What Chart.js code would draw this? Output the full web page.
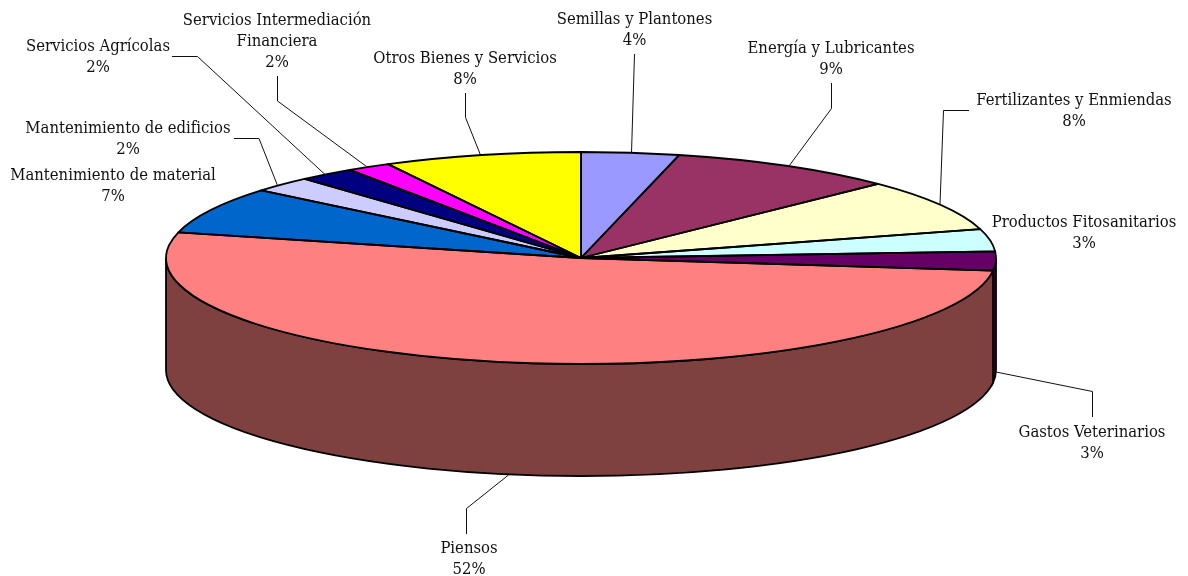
<!DOCTYPE html>
<html lang="es">
<head>
<meta charset="utf-8">
<title>Consumos intermedios</title>
<script src="https://cdn.jsdelivr.net/npm/chart.js@4"></script>
<style>
  html, body { margin: 0; padding: 0; background: #fff; }
  canvas { display: block; }
</style>
</head>
<body>
<canvas id="pieChart" width="1188" height="576"></canvas>
<script>
// Datos
const categories = [
  'Semillas y Plantones', 'Energía y Lubricantes', 'Fertilizantes y Enmiendas',
  'Productos Fitosanitarios', 'Gastos Veterinarios', 'Piensos',
  'Mantenimiento de material', 'Mantenimiento de edificios', 'Servicios Agrícolas',
  'Servicios Intermediación Financiera', 'Otros Bienes y Servicios'
];
const shares = [3.8, 8.9, 7.9, 3.4, 2.9, 52.0, 7.1, 2.4, 2.2, 1.7, 7.7];
const sliceColors = [
  '#9999FF', '#993366', '#FFFFCC', '#CCFFFF', '#660066', '#FF8080',
  '#0066CC', '#CCCCFF', '#000080', '#FF00FF', '#FFFF00'
];

// Maquetacion: elipse de la tarta y etiquetas
const pieBox = { cx: 581, cy: 258, rx: 415, ry: 106, depth: 112 };
const labelFont = '16.5px "DejaVu Serif Condensed", "DejaVu Serif", serif';
const labelLines = [
  ['Semillas y Plantones'], ['Energía y Lubricantes'], ['Fertilizantes y Enmiendas'],
  ['Productos Fitosanitarios'], ['Gastos Veterinarios'], ['Piensos'],
  ['Mantenimiento de material'], ['Mantenimiento de edificios'], ['Servicios Agrícolas'],
  ['Servicios Intermediación', 'Financiera'], ['Otros Bienes y Servicios']
];
const labelAnchors = [
  [634.5, 24], [831, 53], [1074, 105], [1084, 227], [1092, 437], [469, 553],
  [113, 180], [128, 133], [98, 51], [277, 25], [465, 63]
];
const leaderLines = [
  [[634.5, 54], [631.5, 153]],
  [[831.5, 83], [831.5, 108.5], [789, 166]],
  [[969, 110.5], [943.5, 110.5], [940, 204]],
  null,
  [[996, 372], [1092.5, 391.5], [1092.5, 417]],
  [[508.5, 475], [466.5, 508.5], [466.5, 534]],
  null,
  [[234, 138.5], [259, 138.5], [277.5, 185.5]],
  [[172, 56.5], [197.5, 56.5], [325, 174.5]],
  [[277.5, 76], [277.5, 101], [366.5, 166.5]],
  [[465.5, 93], [465.5, 117.5], [480.5, 155]]
];

function darken(hex) {
  const n = parseInt(hex.slice(1), 16);
  const half = (v) => (v >> 1);
  return `rgb(${half((n >> 16) & 255)}, ${half((n >> 8) & 255)}, ${half(n & 255)})`;
}

// Cara lateral: solo la parte de cada sector que mira hacia abajo
function drawSides(chart) {
  const { ctx } = chart;
  const { cx, cy, rx, ry, depth } = pieBox;
  chart.getDatasetMeta(0).data.forEach((arc, i) => {
    const a1 = Math.max(arc.startAngle, 0);
    const a2 = Math.min(arc.endAngle, Math.PI);
    if (a2 <= a1) return;
    ctx.beginPath();
    ctx.ellipse(cx, cy, rx, ry, 0, a1, a2);
    ctx.ellipse(cx, cy + depth, rx, ry, 0, a2, a1, true);
    ctx.closePath();
    ctx.fillStyle = darken(sliceColors[i]);
    ctx.fill();
    ctx.lineWidth = 1.8;
    ctx.strokeStyle = '#000';
    ctx.stroke();
  });
}

function drawOutlines(chart) {
  const { ctx } = chart;
  const { cx, cy, rx, ry } = pieBox;
  ctx.save();
  ctx.lineWidth = 1.8;
  ctx.lineJoin = 'round';
  ctx.strokeStyle = '#000';
  chart.getDatasetMeta(0).data.forEach((arc) => {
    ctx.beginPath();
    ctx.moveTo(cx, cy);
    ctx.ellipse(cx, cy, rx, ry, 0, arc.startAngle, arc.endAngle);
    ctx.closePath();
    ctx.stroke();
  });
  ctx.restore();
}

function drawLabels(chart) {
  const { ctx } = chart;
  ctx.save();
  ctx.strokeStyle = '#111';
  ctx.lineWidth = 1;
  leaderLines.forEach((line) => {
    if (!line) return;
    ctx.beginPath();
    line.forEach(([x, y], k) => (k ? ctx.lineTo(x, y) : ctx.moveTo(x, y)));
    ctx.stroke();
  });
  ctx.font = labelFont;
  ctx.fillStyle = '#111';
  ctx.textAlign = 'center';
  ctx.textBaseline = 'alphabetic';
  categories.forEach((name, i) => {
    const [x, y] = labelAnchors[i];
    const lines = [...labelLines[i], `${Math.round(shares[i])}%`];
    lines.forEach((text, k) => ctx.fillText(text, x, y + k * 21));
  });
  ctx.restore();
}

// La tarta de Chart.js es circular: se aplasta con una transformacion del canvas
const pie3d = {
  id: 'pie3d',
  beforeDatasetsDraw(chart) {
    const { ctx } = chart;
    const arc = chart.getDatasetMeta(0).data[0];
    const r = arc.outerRadius;
    drawSides(chart);
    ctx.save();
    ctx.translate(pieBox.cx, pieBox.cy);
    ctx.scale(pieBox.rx / r, pieBox.ry / r);
    ctx.translate(-arc.x, -arc.y);
  },
  afterDatasetsDraw(chart) {
    chart.ctx.restore();
    drawOutlines(chart);
    drawLabels(chart);
  }
};

new Chart(document.querySelector('#pieChart'), {
  type: 'pie',
  data: {
    labels: categories,
    datasets: [{
      data: shares,
      backgroundColor: sliceColors,
      borderWidth: 0,
      clip: false
    }]
  },
  options: {
    responsive: false,
    animation: false,
    plugins: {
      legend: { display: false },
      tooltip: { enabled: false }
    }
  },
  plugins: [pie3d]
});
</script>
</body>
</html>
